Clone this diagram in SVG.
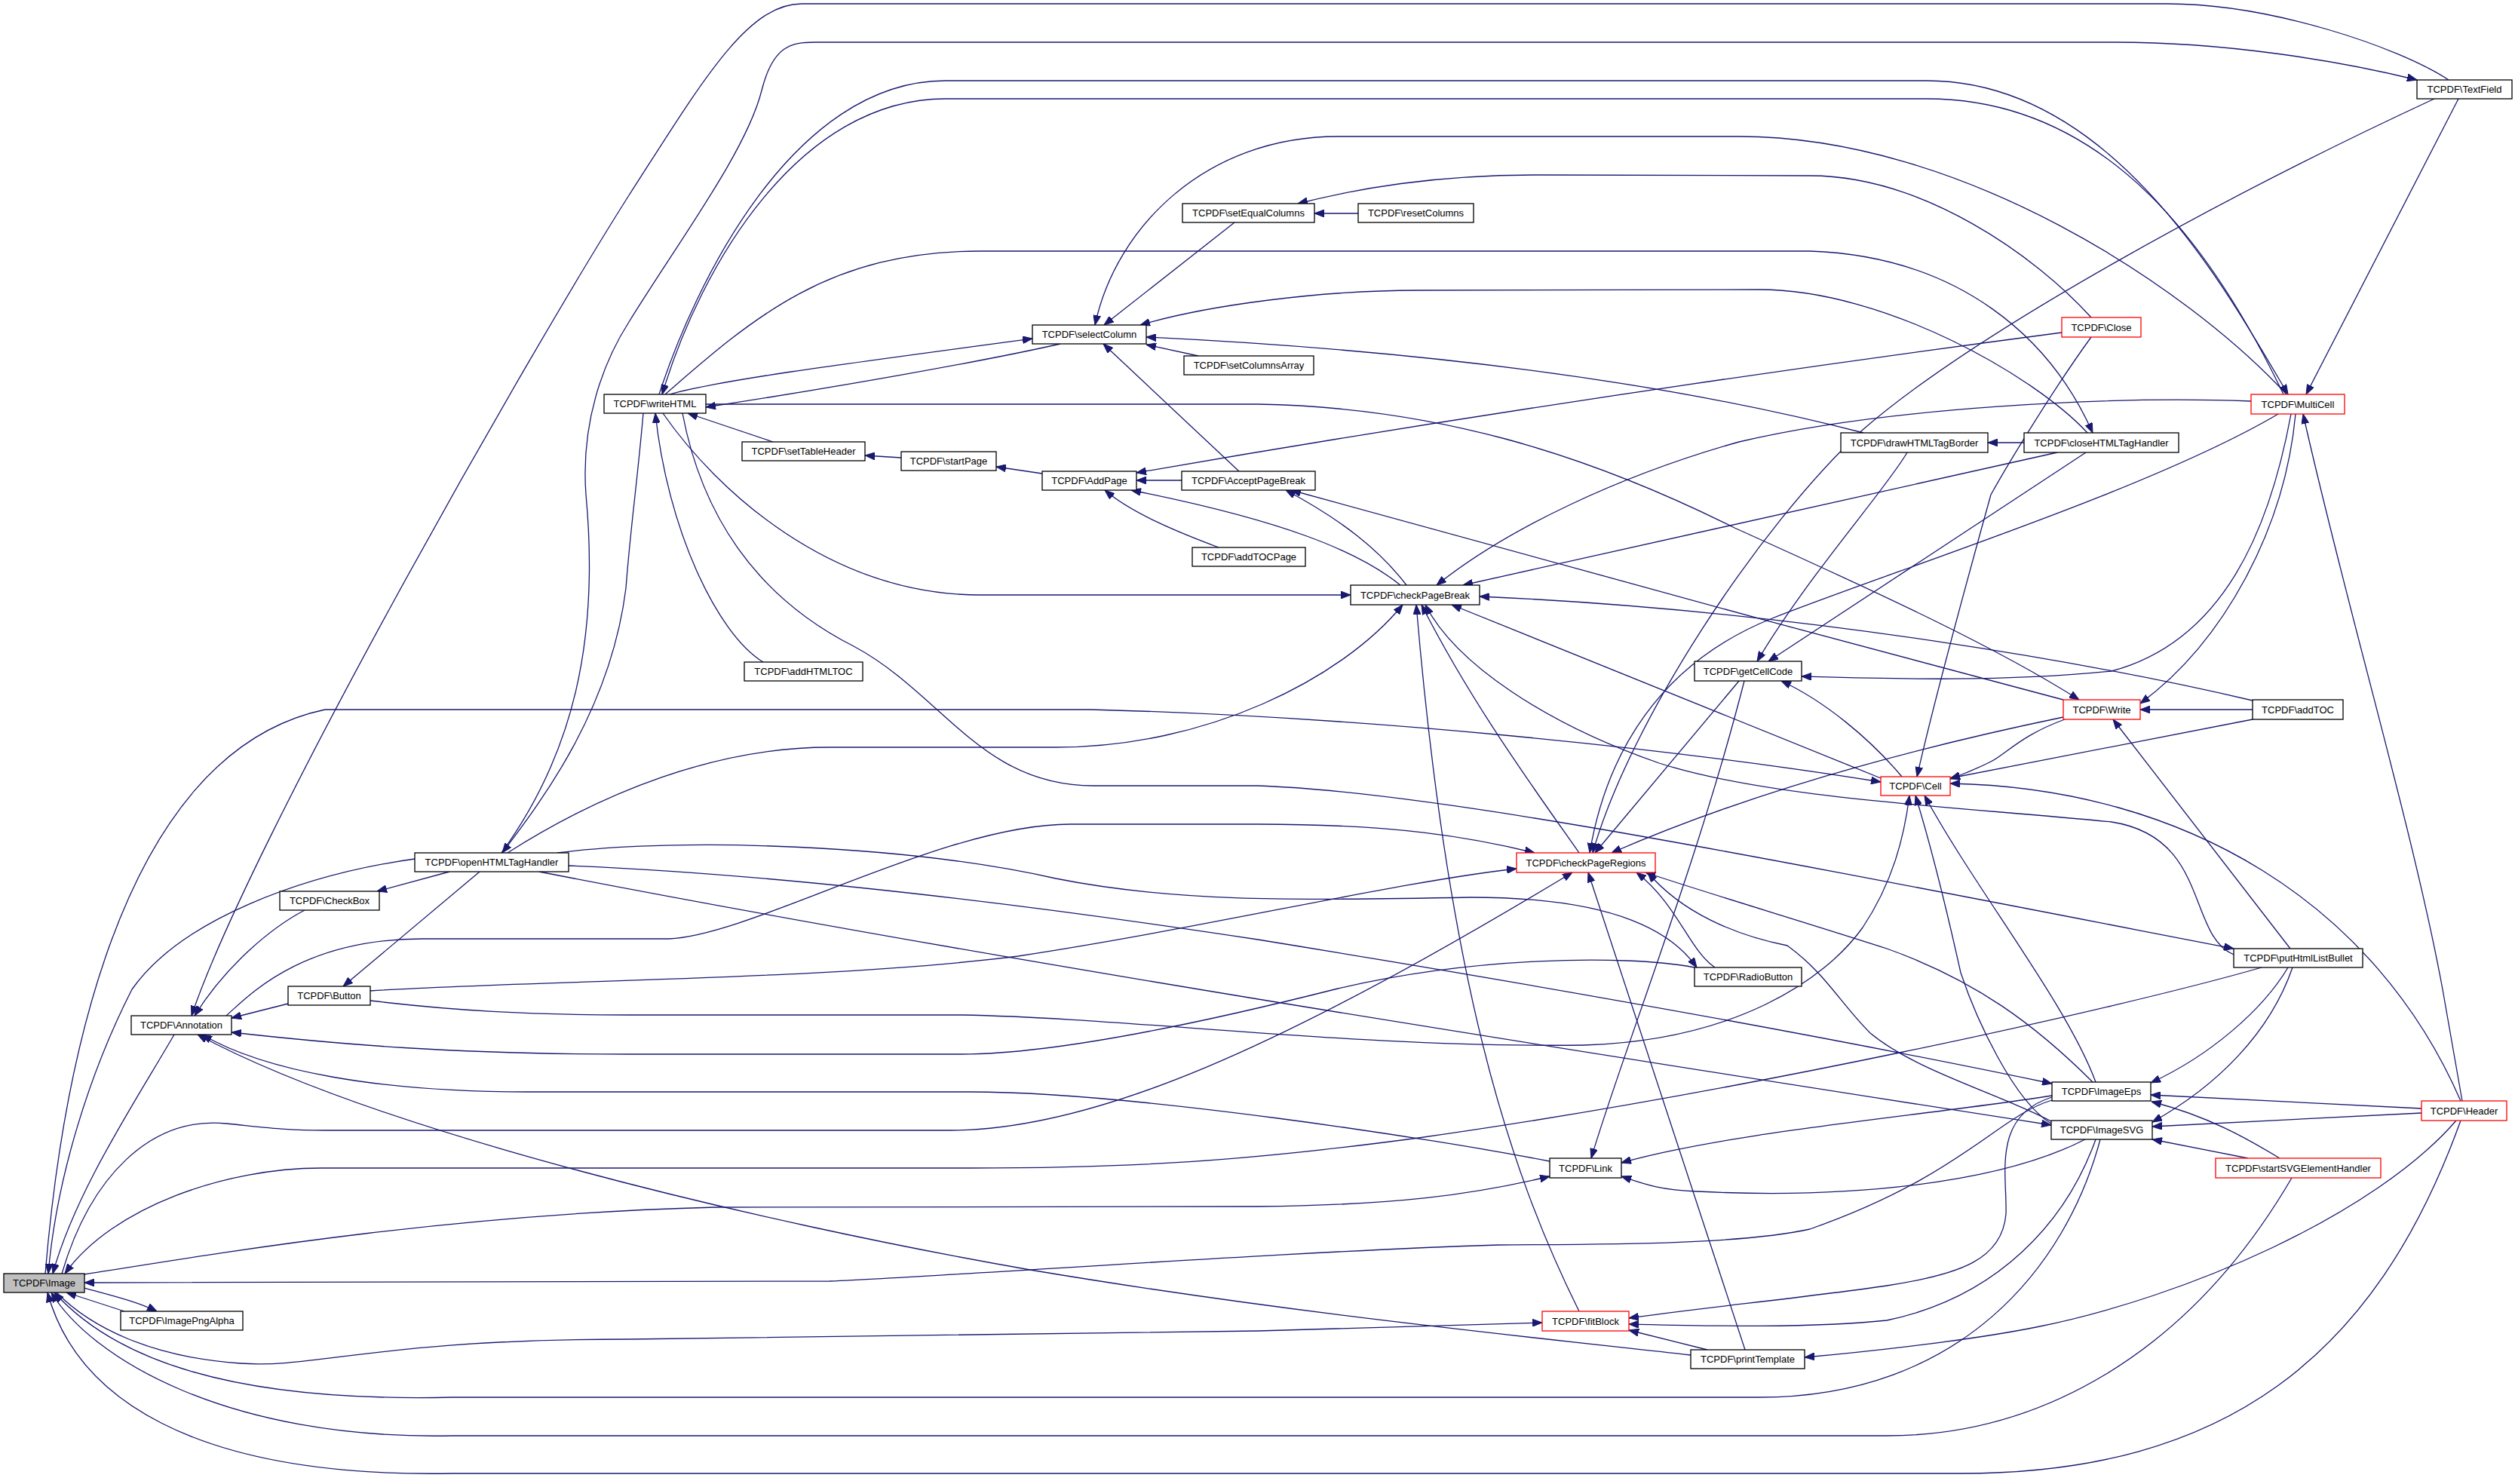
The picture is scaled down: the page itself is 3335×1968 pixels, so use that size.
<svg xmlns="http://www.w3.org/2000/svg" width="3335" height="1968" viewBox="0 0 3335 1968">
<style>
.n rect{fill:#fff;stroke:#000;stroke-width:1.3}
.n.r rect{stroke:#ff0000}
.n.g rect{fill:#bfbfbf}
.n text{font-family:"Liberation Sans",Arial,sans-serif;font-size:13px;text-anchor:middle;fill:#000}
.e path{fill:none;stroke:#191970;stroke-width:1.3;marker-end:url(#a)}
</style>
<defs>
<marker id="a" markerUnits="userSpaceOnUse" markerWidth="13" markerHeight="10" refX="13" refY="5" orient="auto"><path d="M0,0 L13,5 L0,10 z" fill="#191970" stroke="#191970"/></marker>
</defs>
<rect width="3335" height="1968" fill="#fff"/>
<g class="e">
<path d="M3247,106 C3180,62 3010,5 2874,5 L1063,5 C990,5 930,110 834,259 C700,470 330,1120 254,1347"/>
<path d="M665,1131 C760,1000 795,850 777,656 C770,560 800,480 834,427 C900,320 990,200 1010,120 C1025,60 1050,56 1080,56 L2805,56 C2950,56 3100,80 3205,106"/>
<path d="M853,548 C845,640 836,700 830,780 C810,940 720,1060 666,1131"/>
<path d="M874,523 C920,380 1050,107 1254,107 L2555,107 C2800,107 2950,380 3034,523"/>
<path d="M3028,523 C2940,340 2800,131 2555,131 L1254,131 C1060,131 930,350 878,523"/>
<path d="M3260,131 L3058,523"/>
<path d="M3228,131 C2950,260 2620,440 2470,570 C2330,700 2160,960 2112,1131"/>
<path d="M550,1139 C400,1160 240,1220 175,1312 C120,1420 75,1560 64,1689"/>
<path d="M231,1372 C180,1460 100,1580 70,1689"/>
<path d="M404,1207 C360,1230 300,1280 258,1347"/>
<path d="M596,1156 L500,1182"/>
<path d="M636,1156 L455,1308"/>
<path d="M382,1331 L307,1350"/>
<path d="M491,1314 C700,1300 1100,1300 1350,1268 C1600,1230 1850,1170 2011,1152"/>
<path d="M300,1347 C330,1320 400,1245 560,1245 L887,1245 C1000,1240 1250,1093 1419,1093 L1668,1093 C1850,1093 1950,1110 2035,1131"/>
<path d="M739,1131 C900,1110 1200,1120 1400,1165 C1550,1195 1700,1195 1950,1190 C2150,1190 2220,1240 2250,1283"/>
<path d="M2247,1283 C2150,1265 1950,1270 1774,1311 C1600,1355 1400,1398 1275,1398 L834,1398 C600,1398 450,1385 307,1369"/>
<path d="M2055,1540 C1900,1510 1500,1448 1286,1448 L700,1448 C500,1448 350,1420 268,1372"/>
<path d="M2242,1797 C2000,1770 1700,1740 1366,1684 C1000,1620 500,1500 262,1372"/>
<path d="M112,1708 C140,1716 180,1725 208,1739"/>
<path d="M165,1739 L88,1714"/>
<path d="M60,1689 C80,1450 150,1000 431,941 L1446,941 C1800,950 2200,990 2494,1037"/>
<path d="M82,1689 C120,1560 200,1480 300,1490 C360,1496 380,1499 430,1499 L1260,1499 C1450,1499 1700,1390 2085,1157"/>
<path d="M2999,1283 C2800,1340 2300,1450 1881,1509 C1650,1540 1500,1549 1286,1549 L426,1549 C300,1549 150,1600 86,1689"/>
<path d="M112,1690 C300,1660 600,1610 948,1601 L1668,1600 C1850,1598 1950,1585 2055,1560"/>
<path d="M2721,1459 C2650,1480 2600,1560 2400,1630 C2300,1652 2100,1650 1987,1651 C1700,1660 1300,1690 1100,1699 L112,1701"/>
<path d="M75,1714 C120,1760 200,1800 319,1808 C420,1815 500,1776 834,1776 L1668,1765 C1850,1760 1950,1756 2045,1754"/>
<path d="M2785,1511 C2740,1680 2600,1853 2333,1853 L600,1853 C300,1860 150,1800 72,1714"/>
<path d="M3039,1562 C2900,1800 2700,1904 2502,1904 L600,1904 C300,1910 120,1800 68,1714"/>
<path d="M3263,1486 C3150,1800 2950,1954 2600,1954 L600,1954 C250,1960 100,1850 63,1714"/>
<path d="M673,1131 C800,1050 950,991 1100,991 L1400,991 C1600,991 1780,900 1860,802"/>
<path d="M1012,878 C950,840 885,700 869,548"/>
<path d="M905,548 C930,680 1000,790 1132,857 C1250,920 1300,1042 1450,1042 L1668,1042 C1900,1050 2300,1130 2962,1258"/>
<path d="M1025,586 L912,548"/>
<path d="M1195,607 L1147,604"/>
<path d="M1382,628 L1321,619"/>
<path d="M1567,637 L1507,637"/>
<path d="M2734,441 C2400,485 1950,550 1507,627"/>
<path d="M1616,726 C1560,705 1500,680 1465,650"/>
<path d="M1857,776 C1800,730 1700,690 1500,650"/>
<path d="M1643,625 L1463,456"/>
<path d="M1865,776 C1830,730 1780,690 1705,650"/>
<path d="M888,523 C950,505 1100,485 1369,449"/>
<path d="M1406,456 C1300,480 1100,515 936,540"/>
<path d="M1637,295 L1464,431"/>
<path d="M1801,283 L1743,283"/>
<path d="M1589,472 L1520,457"/>
<path d="M2773,421 C2700,340 2550,233 2400,233 L2040,232 C1900,232 1800,250 1721,270"/>
<path d="M3032,523 C2900,380 2600,181 2306,181 L1774,181 C1600,181 1480,300 1452,431"/>
<path d="M2471,574 C2300,530 2000,470 1520,447"/>
<path d="M2768,574 C2700,500 2500,384 2333,384 L1881,385 C1750,385 1600,405 1512,431"/>
<path d="M882,523 C1000,420 1100,333 1300,333 L2400,333 C2600,340 2720,450 2775,574"/>
<path d="M879,548 C950,650 1100,789 1300,789 L1791,789"/>
<path d="M936,536 L1668,536 C1900,540 2100,600 2300,700 C2500,790 2650,860 2757,928"/>
<path d="M2985,532 C2800,525 2500,540 2306,586 C2150,630 2000,700 1905,776"/>
<path d="M2728,600 L1940,776"/>
<path d="M3021,549 C2850,650 2500,760 2350,820 C2200,880 2130,1000 2108,1131"/>
<path d="M2766,600 L2345,877"/>
<path d="M2529,600 C2500,650 2400,760 2330,877"/>
<path d="M2684,587 L2636,587"/>
<path d="M3038,549 C3010,700 2950,850 2800,890 C2650,905 2500,900 2389,897"/>
<path d="M3044,549 C3030,700 2950,850 2838,933"/>
<path d="M3265,1460 L3239,1312 C3200,1100 3110,800 3054,549"/>
<path d="M3263,1460 C3150,1200 2900,1045 2586,1039"/>
<path d="M3211,1470 L2852,1452"/>
<path d="M3211,1476 L2854,1494"/>
<path d="M2981,1536 L2854,1511"/>
<path d="M3023,1536 C2980,1510 2928,1480 2853,1461"/>
<path d="M3034,1283 C3000,1340 2930,1400 2852,1436"/>
<path d="M3040,1283 C3010,1370 2940,1440 2854,1488"/>
<path d="M715,1156 C1300,1270 2000,1380 2720,1492"/>
<path d="M754,1148 C1000,1158 1300,1190 1668,1246 C2000,1300 2400,1370 2721,1437"/>
<path d="M491,1327 C600,1340 700,1346 834,1346 L1275,1346 C1500,1350 1800,1390 2100,1386 C2300,1380 2420,1300 2470,1230 C2510,1170 2525,1110 2532,1055"/>
<path d="M2494,1032 L1925,802"/>
<path d="M2522,1030 C2480,980 2420,930 2362,903"/>
<path d="M2962,1266 C2900,1240 2930,1110 2800,1090 C2600,1070 2350,1060 2200,1012 C2050,960 1930,880 1890,802"/>
<path d="M2987,929 C2800,885 2400,810 1962,791"/>
<path d="M2987,941 L2838,941"/>
<path d="M2987,954 L2586,1032"/>
<path d="M2738,954 C2680,975 2660,1000 2640,1010 C2620,1020 2600,1028 2586,1033"/>
<path d="M2736,951 C2500,1000 2300,1060 2137,1131"/>
<path d="M2736,928 C2400,840 2000,730 1712,650"/>
<path d="M3037,1258 L2802,954"/>
<path d="M2094,1131 C2030,1040 1950,930 1885,802"/>
<path d="M2094,1739 C2000,1550 1920,1300 1878,802"/>
<path d="M2314,1790 L2106,1157"/>
<path d="M2264,1790 L2160,1764"/>
<path d="M2274,1283 C2240,1260 2225,1200 2170,1157"/>
<path d="M2306,903 L2115,1131"/>
<path d="M2313,903 C2250,1150 2150,1400 2110,1536"/>
<path d="M2779,1435 C2740,1330 2620,1180 2552,1055"/>
<path d="M2720,1490 C2670,1460 2620,1350 2600,1290 C2580,1200 2560,1120 2540,1055"/>
<path d="M2775,1435 C2700,1360 2620,1300 2502,1258 C2400,1225 2250,1180 2182,1157"/>
<path d="M2720,1487 C2650,1450 2540,1420 2480,1370 C2440,1330 2420,1290 2370,1254 C2300,1240 2230,1210 2185,1157"/>
<path d="M2721,1453 C2550,1480 2300,1500 2150,1542"/>
<path d="M2765,1511 C2650,1570 2450,1590 2250,1580 C2200,1578 2180,1570 2150,1560"/>
<path d="M2721,1455 C2640,1480 2662,1560 2660,1610 C2655,1670 2600,1690 2502,1705 C2400,1720 2250,1735 2160,1748"/>
<path d="M2779,1511 C2740,1620 2650,1720 2502,1751 C2400,1762 2250,1758 2160,1756"/>
<path d="M3257,1486 C3150,1610 2900,1720 2700,1760 C2600,1780 2450,1795 2393,1800"/>
<path d="M2773,447 C2720,520 2660,620 2640,656 C2600,800 2560,950 2542,1030"/>
</g>
<g id="n_Image" class="n g"><rect x="5" y="1689" width="107" height="25"/><text x="58.5" y="1706">TCPDF\Image</text></g>
<g id="n_ImagePngAlpha" class="n"><rect x="160" y="1739" width="162" height="25"/><text x="241" y="1756">TCPDF\ImagePngAlpha</text></g>
<g id="n_Annotation" class="n"><rect x="174" y="1347" width="133" height="25"/><text x="240.5" y="1364">TCPDF\Annotation</text></g>
<g id="n_Button" class="n"><rect x="382" y="1308" width="109" height="25"/><text x="436.5" y="1325">TCPDF\Button</text></g>
<g id="n_CheckBox" class="n"><rect x="371" y="1182" width="132" height="25"/><text x="437" y="1199">TCPDF\CheckBox</text></g>
<g id="n_openHTMLTagHandler" class="n"><rect x="550" y="1131" width="204" height="25"/><text x="652" y="1148">TCPDF\openHTMLTagHandler</text></g>
<g id="n_writeHTML" class="n"><rect x="801" y="523" width="135" height="25"/><text x="868.5" y="540">TCPDF\writeHTML</text></g>
<g id="n_setTableHeader" class="n"><rect x="984" y="586" width="163" height="25"/><text x="1065.5" y="603">TCPDF\setTableHeader</text></g>
<g id="n_startPage" class="n"><rect x="1195" y="599" width="126" height="25"/><text x="1258" y="616">TCPDF\startPage</text></g>
<g id="n_AddPage" class="n"><rect x="1382" y="625" width="125" height="25"/><text x="1444.5" y="642">TCPDF\AddPage</text></g>
<g id="n_AcceptPageBreak" class="n"><rect x="1567" y="625" width="177" height="25"/><text x="1655.5" y="642">TCPDF\AcceptPageBreak</text></g>
<g id="n_selectColumn" class="n"><rect x="1369" y="431" width="151" height="25"/><text x="1444.5" y="448">TCPDF\selectColumn</text></g>
<g id="n_setEqualColumns" class="n"><rect x="1568" y="270" width="175" height="25"/><text x="1655.5" y="287">TCPDF\setEqualColumns</text></g>
<g id="n_resetColumns" class="n"><rect x="1801" y="270" width="153" height="25"/><text x="1877.5" y="287">TCPDF\resetColumns</text></g>
<g id="n_setColumnsArray" class="n"><rect x="1570" y="472" width="172" height="25"/><text x="1656" y="489">TCPDF\setColumnsArray</text></g>
<g id="n_addTOCPage" class="n"><rect x="1581" y="726" width="150" height="25"/><text x="1656" y="743">TCPDF\addTOCPage</text></g>
<g id="n_checkPageBreak" class="n"><rect x="1791" y="776" width="171" height="26"/><text x="1876.5" y="794">TCPDF\checkPageBreak</text></g>
<g id="n_addHTMLTOC" class="n"><rect x="987" y="878" width="157" height="25"/><text x="1065.5" y="895">TCPDF\addHTMLTOC</text></g>
<g id="n_getCellCode" class="n"><rect x="2247" y="877" width="142" height="26"/><text x="2318" y="895">TCPDF\getCellCode</text></g>
<g id="n_checkPageRegions" class="n r"><rect x="2011" y="1131" width="184" height="26"/><text x="2103" y="1149">TCPDF\checkPageRegions</text></g>
<g id="n_RadioButton" class="n"><rect x="2247" y="1283" width="142" height="25"/><text x="2318" y="1300">TCPDF\RadioButton</text></g>
<g id="n_Link" class="n"><rect x="2055" y="1536" width="95" height="26"/><text x="2102.5" y="1554">TCPDF\Link</text></g>
<g id="n_fitBlock" class="n r"><rect x="2045" y="1739" width="115" height="26"/><text x="2102.5" y="1757">TCPDF\fitBlock</text></g>
<g id="n_printTemplate" class="n"><rect x="2242" y="1790" width="151" height="25"/><text x="2317.5" y="1807">TCPDF\printTemplate</text></g>
<g id="n_Close" class="n r"><rect x="2734" y="421" width="105" height="26"/><text x="2786.5" y="439">TCPDF\Close</text></g>
<g id="n_MultiCell" class="n r"><rect x="2985" y="523" width="124" height="26"/><text x="3047" y="541">TCPDF\MultiCell</text></g>
<g id="n_TextField" class="n"><rect x="3205" y="106" width="126" height="25"/><text x="3268" y="123">TCPDF\TextField</text></g>
<g id="n_drawHTMLTagBorder" class="n"><rect x="2441" y="574" width="195" height="26"/><text x="2538.5" y="592">TCPDF\drawHTMLTagBorder</text></g>
<g id="n_closeHTMLTagHandler" class="n"><rect x="2684" y="574" width="205" height="26"/><text x="2786.5" y="592">TCPDF\closeHTMLTagHandler</text></g>
<g id="n_Write" class="n r"><rect x="2736" y="928" width="102" height="26"/><text x="2787" y="946">TCPDF\Write</text></g>
<g id="n_addTOC" class="n"><rect x="2987" y="928" width="120" height="26"/><text x="3047" y="946">TCPDF\addTOC</text></g>
<g id="n_Cell" class="n r"><rect x="2494" y="1030" width="92" height="25"/><text x="2540" y="1047">TCPDF\Cell</text></g>
<g id="n_putHtmlListBullet" class="n"><rect x="2962" y="1258" width="171" height="25"/><text x="3047.5" y="1275">TCPDF\putHtmlListBullet</text></g>
<g id="n_ImageEps" class="n"><rect x="2721" y="1435" width="131" height="25"/><text x="2786.5" y="1452">TCPDF\ImageEps</text></g>
<g id="n_ImageSVG" class="n"><rect x="2720" y="1486" width="134" height="25"/><text x="2787" y="1503">TCPDF\ImageSVG</text></g>
<g id="n_startSVGElementHandler" class="n r"><rect x="2938" y="1536" width="219" height="26"/><text x="3047.5" y="1554">TCPDF\startSVGElementHandler</text></g>
<g id="n_Header" class="n r"><rect x="3211" y="1460" width="113" height="26"/><text x="3267.5" y="1478">TCPDF\Header</text></g>
</svg>
